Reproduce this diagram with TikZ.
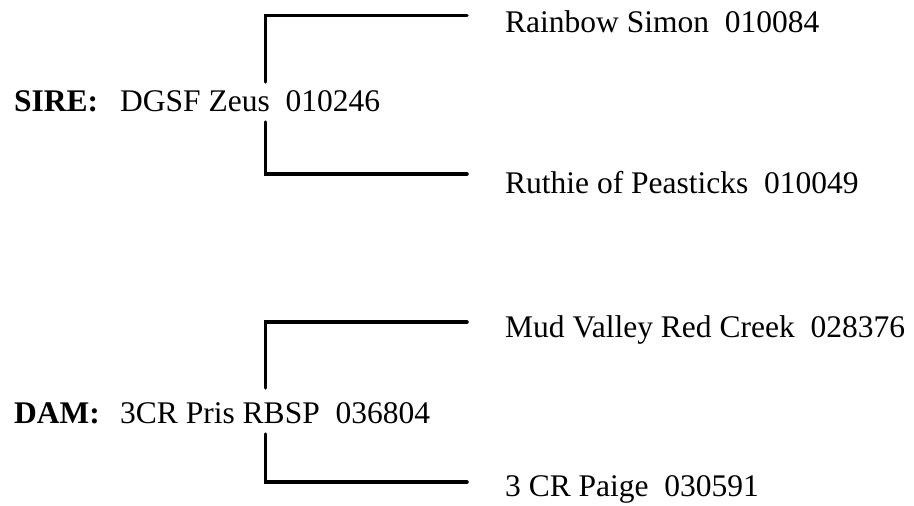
\documentclass[tikz,border=0pt]{standalone}
\usepackage{fontspec}
\setmainfont{Liberation Serif}
\begin{document}
\begin{tikzpicture}[x=1pt,y=-1pt,
  lbl/.style={anchor=base west,inner sep=0pt,font=\fontsize{31.5}{36}\selectfont},
  bracket/.style={line width=3.5pt,line cap=round,line join=miter}]
\useasboundingbox (0,0) rectangle (914,506);
% sire
\node[lbl] (sirelbl) at (14,111) {\textbf{SIRE:}};
\node[lbl] (sire) at (120,111) {DGSF Zeus~~010246};
\node[lbl] (ss) at (505,32) {Rainbow Simon~~010084};
\node[lbl] (sd) at (505,193) {Ruthie of Peasticks~~010049};
\coordinate (s1) at (265.5,82);
\coordinate (s2) at (265.5,15.5);
\coordinate (s3) at (467,15.5);
\coordinate (s4) at (265.5,122);
\coordinate (s5) at (265.5,174);
\coordinate (s6) at (467,174);
\draw[bracket] (s1) -- (s2) -- (s3);
\draw[bracket] (s4) -- (s5) -- (s6);
% dam
\node[lbl] (damlbl) at (14,423) {\textbf{DAM:}};
\node[lbl] (dam) at (120,423) {3CR Pris RBSP~~036804};
\node[lbl] (ds) at (505,337) {Mud Valley Red Creek~~028376};
\node[lbl] (dd) at (505,496) {3 CR Paige~~030591};
\coordinate (d1) at (265.5,388);
\coordinate (d2) at (265.5,322);
\coordinate (d3) at (467,322);
\coordinate (d4) at (265.5,434);
\coordinate (d5) at (265.5,482);
\coordinate (d6) at (467,482);
\draw[bracket] (d1) -- (d2) -- (d3);
\draw[bracket] (d4) -- (d5) -- (d6);
\end{tikzpicture}
\end{document}
